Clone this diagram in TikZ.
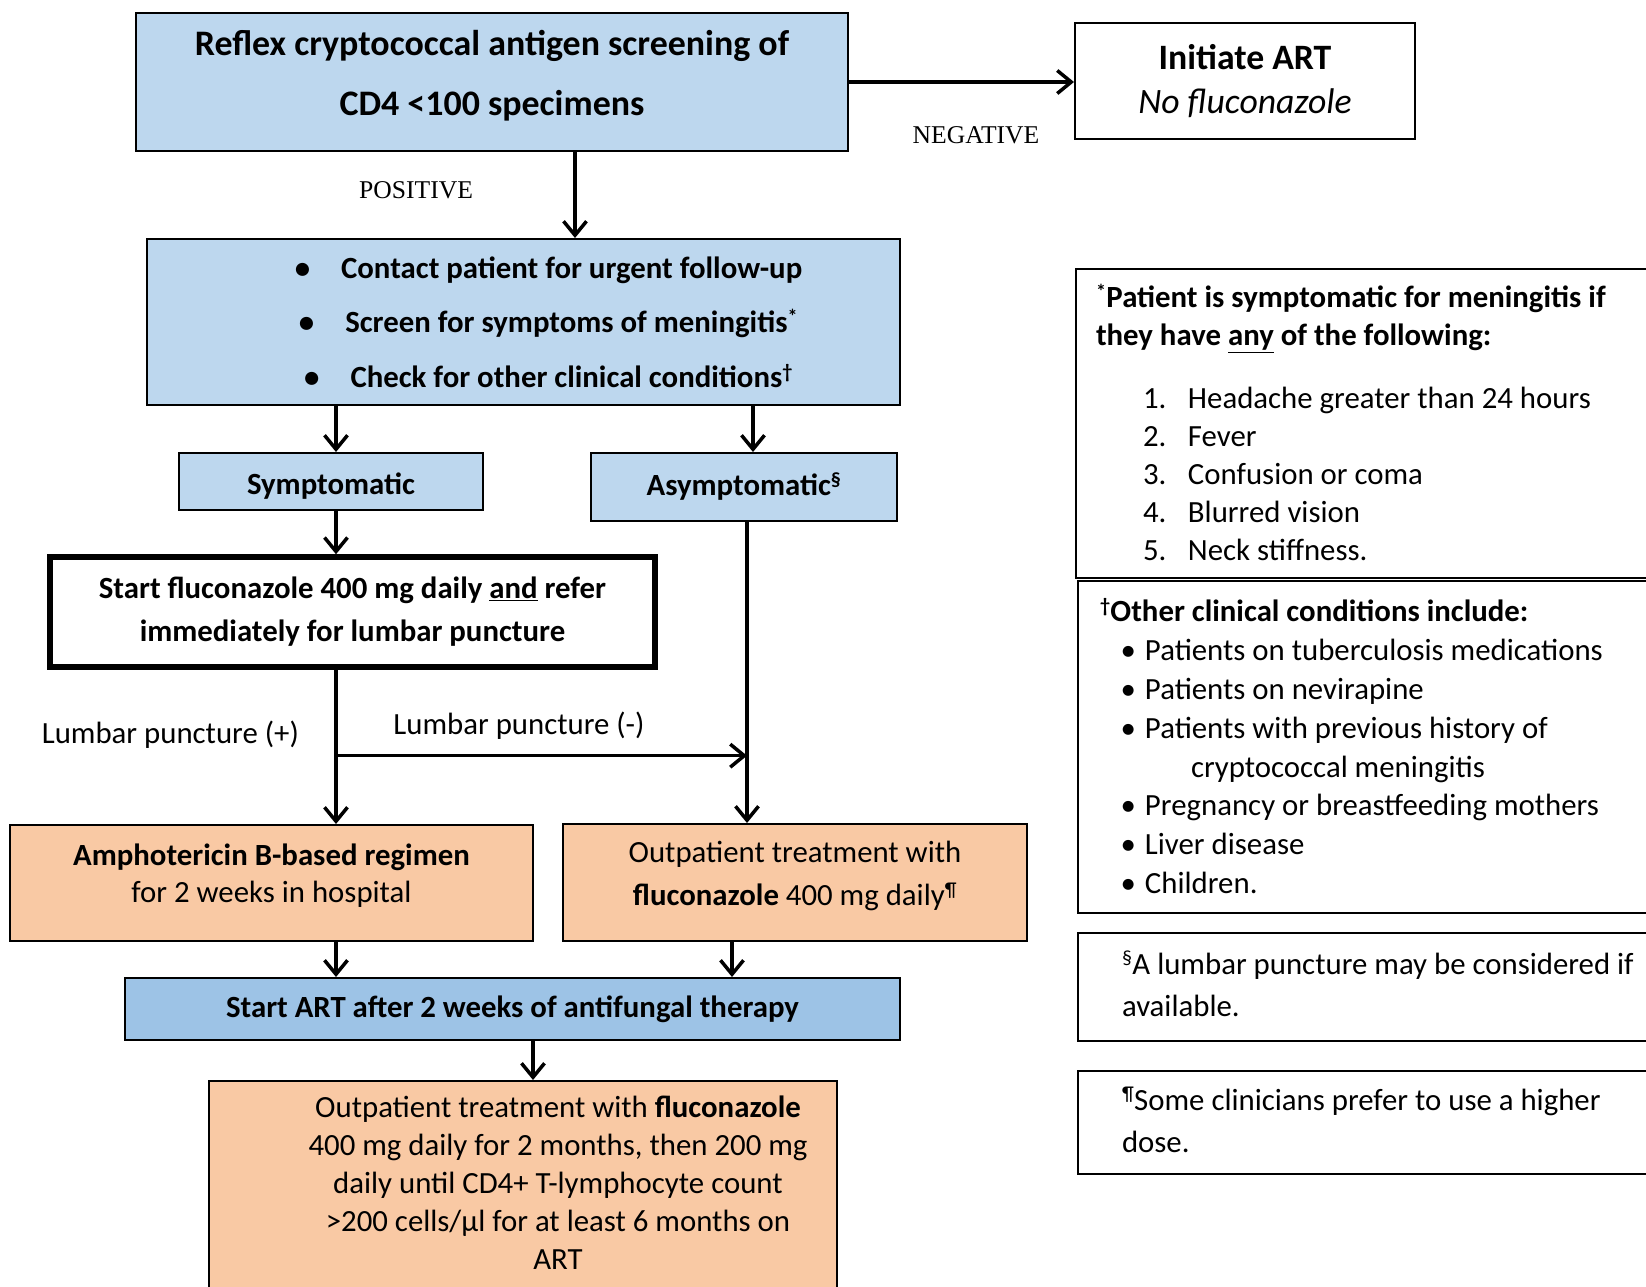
\documentclass[tikz,border=0pt]{standalone}
\usepackage{fontspec}
\setmainfont{Carlito}
\newfontfamily\casefont{Liberation Serif}
\usetikzlibrary{arrows.meta,positioning}

\definecolor{boxblue}{HTML}{BDD7EE}
\definecolor{artblue}{HTML}{9DC3E6}
\definecolor{boxorange}{HTML}{F9C9A4}

\newcommand{\flowfont}{\fontsize{30.8}{37.8}\selectfont}
\newcommand{\supmark}[1]{\textsuperscript{\fontsize{20}{20}\selectfont #1}}

\tikzstyle{block} = [rectangle, draw, line width=2pt, inner sep=0pt, font=\flowfont]
\tikzstyle{blueblock} = [block, fill=boxblue, align=center, font=\flowfont\bfseries]
\tikzstyle{orangeblock} = [block, fill=boxorange, align=center]
\tikzstyle{note} = [rectangle, draw, line width=2pt, inner sep=0pt, anchor=north west]
\tikzstyle{casetext} = [font=\casefont\fontsize{25.6}{30}\selectfont]
\tikzstyle{lptext} = [font=\flowfont]

\begin{document}
\begin{tikzpicture}[x=1pt,y=-1pt,line width=3.5pt,>={Straight Barb[length=14pt,width=23pt]}]
\useasboundingbox (0,0) rectangle (1646,1286);
\clip (0,0) rectangle (1646,1286);

% flow boxes
\node [blueblock, minimum width=712pt, minimum height=138pt, font=\fontsize{35.9}{60}\selectfont\bfseries] (screen) at (492,82) {Reflex cryptococcal antigen screening of\\CD4 <100 specimens\rule[-18pt]{0pt}{18pt}};
\node [block, align=center, minimum width=340pt, minimum height=116pt, font=\fontsize{35.7}{44}\selectfont] (initart) at (1245,81) {\textbf{Initiate ART}\\\textit{No fluconazole}};
\node [block, fill=boxblue, minimum width=753pt, minimum height=166pt, font=\fontsize{30.8}{54.5}\selectfont\bfseries] (contact) at (523.5,322) {\hspace*{50pt}\begin{tabular}{@{}c@{}}
  \textbullet\hspace{31pt}Contact patient for urgent follow-up\\
  \textbullet\hspace{31pt}Screen for symptoms of meningitis\supmark{*}\\
  \textbullet\hspace{31pt}Check for other clinical conditions\supmark{\textdagger}
\end{tabular}\rule[-6pt]{0pt}{6pt}};
\node [blueblock, minimum width=304pt, minimum height=57pt] (symp) at (331,481.5) {\rule{0pt}{31pt}Symptomatic};
\node [blueblock, minimum width=306pt, minimum height=68pt] (asymp) at (744,487) {Asymptomatic\supmark{\S}};
\node [block, line width=5.5pt, align=center, minimum width=605pt, minimum height=110pt, font=\fontsize{30.8}{43}\selectfont\bfseries] (startflu) at (352.5,612) {Start fluconazole 400 mg daily \underline{and} refer\\immediately for lumbar puncture};
\node [orangeblock, minimum width=523pt, minimum height=116pt, font=\fontsize{30.8}{37}\selectfont] (ampho) at (271.5,883) {\textbf{Amphotericin B-based regimen}\\for 2 weeks in hospital\rule[-19pt]{0pt}{19pt}};
\node [orangeblock, minimum width=464pt, minimum height=117pt, font=\fontsize{30.8}{43}\selectfont] (outpat) at (795,882.5) {Outpatient treatment with\\\textbf{fluconazole} 400 mg daily\supmark{\P}\rule[-18pt]{0pt}{18pt}};
\node [blueblock, fill=artblue, minimum width=775pt, minimum height=62pt] (startart) at (512.5,1009) {Start ART after 2 weeks of antifungal therapy};
\node [block, fill=boxorange, minimum width=628pt, minimum height=210pt] (final) at (523,1186) {\hspace*{70pt}\begin{tabular}{@{}c@{}}
  Outpatient treatment with \textbf{fluconazole}\\
  400 mg daily for 2 months, then 200 mg\\
  daily until CD4+ T-lymphocyte count\\
  >200 cells/µl for at least 6 months on\\
  ART
\end{tabular}\rule{0pt}{14pt}};

% footnote boxes
\node [note, font=\fontsize{30.8}{37.8}\selectfont] (symnote) at (1075,268) {\parbox[c][309pt][t]{585pt}{\raggedright\leftskip=20pt\relax
  \vspace*{12.5pt}
  \strut\textbf{\supmark{*}Patient is symptomatic for meningitis if}\\
  \textbf{they have \underline{any} of the following:}\par
  \vspace{25.4pt}
  \hspace*{47pt}\makebox[45pt][l]{1.}Headache greater than 24 hours\\
  \hspace*{47pt}\makebox[45pt][l]{2.}Fever\\
  \hspace*{47pt}\makebox[45pt][l]{3.}Confusion or coma\\
  \hspace*{47pt}\makebox[45pt][l]{4.}Blurred vision\\
  \hspace*{47pt}\makebox[45pt][l]{5.}Neck stiffness.}};
\node [note, font=\fontsize{30.8}{38.8}\selectfont] (condnote) at (1077,580) {\parbox[c][332pt][t]{585pt}{\raggedright\leftskip=22pt\relax
  \vspace*{13.8pt}
  \strut\textbf{\supmark{\textdagger}Other clinical conditions include:}\\
  \hspace*{20.5pt}\makebox[24.5pt][l]{\textbullet}Patients on tuberculosis medications\\
  \hspace*{20.5pt}\makebox[24.5pt][l]{\textbullet}Patients on nevirapine\\
  \hspace*{20.5pt}\makebox[24.5pt][l]{\textbullet}Patients with previous history of\\
  \hspace*{91pt}cryptococcal meningitis\\
  \hspace*{20.5pt}\makebox[24.5pt][l]{\textbullet}Pregnancy or breastfeeding mothers\\
  \hspace*{20.5pt}\makebox[24.5pt][l]{\textbullet}Liver disease\\
  \hspace*{20.5pt}\makebox[24.5pt][l]{\textbullet}Children.}};
\node [note, font=\fontsize{30.8}{42}\selectfont] (lpnote) at (1077,932) {\parbox[c][108pt][t]{585pt}{\raggedright\leftskip=44pt\relax
  \vspace*{11.6pt}
  \strut\supmark{\S}A lumbar puncture may be considered if\\
  available.}};
\node [note, font=\fontsize{30.8}{42}\selectfont] (dosenote) at (1077,1070) {\parbox[c][103pt][t]{585pt}{\raggedright\leftskip=44pt\relax
  \vspace*{9.6pt}
  \strut\supmark{\P}Some clinicians prefer to use a higher\\
  dose.}};

% columns of the connectors
\coordinate (poscol) at (575,0);
\coordinate (lcol) at (336,0);
\coordinate (rtop) at (753,0);
\coordinate (rcol) at (747,0);
\coordinate (ocol) at (732,0);
\coordinate (fcol) at (533,0);

\draw[->] (screen.east) -- (screen.east -| initart.west) node[casetext, midway, below=39pt, xshift=14.5pt] (neg) {NEGATIVE};
\draw[->] (screen.south -| poscol) -- node[casetext, left=97pt, yshift=5pt] (pos) {POSITIVE} (contact.north -| poscol);

\draw[->] (contact.south -| lcol) -- (symp.north -| lcol);
\draw[->] (contact.south -| rtop) -- (asymp.north -| rtop);
\draw[->] (symp.south -| lcol) -- (startflu.north -| lcol);
\draw[->] (startflu.south -| lcol) -- node[lptext, pos=0.424, left=32pt] (lpplus) {Lumbar puncture (+)} coordinate[pos=0.557] (lpfork) (ampho.north -| lcol);
\draw[->] (lpfork) -- (lpfork -| rcol) node[lptext, midway, above=11pt, xshift=-22.5pt] (lpminus) {Lumbar puncture (-)};
\draw[->] (asymp.south -| rcol) -- (outpat.north -| rcol);

\draw[->] (ampho.south -| lcol) -- (startart.north -| lcol);
\draw[->] (outpat.south -| ocol) -- (startart.north -| ocol);
\draw[->] (startart.south -| fcol) -- (final.north -| fcol);
\end{tikzpicture}
\end{document}
